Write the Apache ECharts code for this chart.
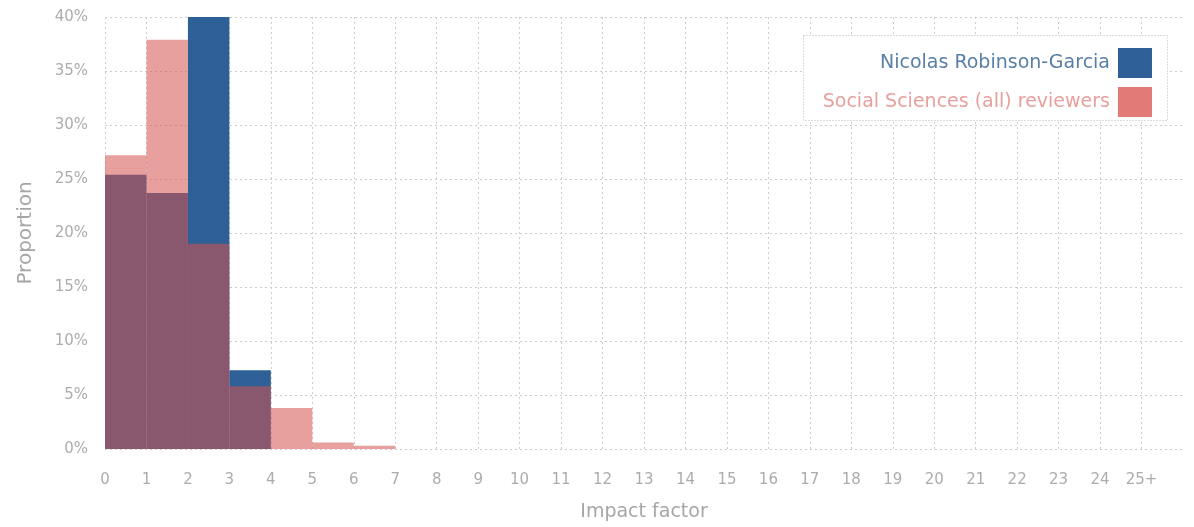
<!DOCTYPE html>
<html>
<head>
<meta charset="utf-8">
<script src="https://cdn.jsdelivr.net/npm/echarts@6/dist/echarts.min.js"></script>
<style>
html,body{margin:0;padding:0;background:#fff;}
#chart{width:1194px;height:527px;}
</style>
</head>
<body>
<div id="chart"></div>
<script>
// ---- data ----
const binStarts = [0,1,2,3,4,5,6,7,8,9,10,11,12,13,14,15,16,17,18,19,20,21,22,23,24,25];
const tickLabels = ['0','1','2','3','4','5','6','7','8','9','10','11','12','13','14','15','16','17','18','19','20','21','22','23','24','25+'];
const nicolasValues = [25.4,23.7,40.0,7.3,0,0,0,0,0,0,0,0,0,0,0,0,0,0,0,0,0,0,0,0,0,0];
const socialValues  = [27.2,37.9,19.0,5.8,3.8,0.6,0.3,0,0,0,0,0,0,0,0,0,0,0,0,0,0,0,0,0,0,0];
const seriesNames = ['Nicolas Robinson-Garcia','Social Sciences (all) reviewers'];

function renderBin(params, api) {
  const x0 = api.value(0), v = api.value(1);
  const p0 = api.coord([x0, 0]);
  const p1 = api.coord([x0 + 1, v]);
  return {
    type: 'rect',
    shape: { x: p0[0], y: p1[1], width: p1[0] - p0[0], height: p0[1] - p1[1] },
    style: api.style()
  };
}

const chart = echarts.init(document.getElementById('chart'));
const font = '"DejaVu Sans ExtraLight", "DejaVu Sans", sans-serif';
chart.setOption({
  animation: false,
  grid: { left: 105, right: 11, top: 17, bottom: 78 },
  xAxis: {
    type: 'value', min: 0, max: 26, interval: 1,
    name: 'Impact factor', nameLocation: 'middle', nameGap: 54,
    nameTextStyle: { color: '#a6a6a6', fontSize: 19, fontFamily: font },
    axisLine: { show: false }, axisTick: { show: false },
    axisLabel: {
      color: '#acacac', fontSize: 15, fontFamily: font, margin: 24,
      formatter: function (v) { return v < tickLabels.length ? tickLabels[v] : ''; }
    },
    splitLine: { show: true, showMaxLine: false, lineStyle: { color: '#cdcdcd', type: [2, 3], width: 1 } }
  },
  yAxis: {
    type: 'value', min: 0, max: 40, interval: 5,
    name: 'Proportion', nameLocation: 'middle', nameGap: 69,
    nameTextStyle: { color: '#a6a6a6', fontSize: 20, fontFamily: font },
    axisLine: { show: false }, axisTick: { show: false },
    axisLabel: { color: '#acacac', fontSize: 15, fontFamily: font, margin: 17, formatter: '{value}%' },
    splitLine: { show: true, lineStyle: { color: '#cdcdcd', type: [2, 3], width: 1 } }
  },
  legend: {
    orient: 'vertical', right: 37, top: 43, align: 'right',
    itemWidth: 34, itemHeight: 30, itemGap: 9, z: 5,
    textStyle: { fontSize: 19, fontFamily: font, padding: [0, 3, 0, 0] },
    data: [
      { name: seriesNames[0], icon: 'rect', itemStyle: { color: '#2e5f97', opacity: 1 }, textStyle: { color: '#5a7fa6' } },
      { name: seriesNames[1], icon: 'rect', itemStyle: { color: '#e27b77', opacity: 1 }, textStyle: { color: '#e8a09e' } }
    ]
  },
  graphic: [{
    type: 'rect', left: 803, top: 35, z: 3,
    shape: { width: 364, height: 85 },
    style: { fill: '#ffffff', stroke: '#b8b8b8', lineWidth: 1, lineDash: [1, 2] }
  }],
  series: [
    {
      name: seriesNames[0], type: 'custom', renderItem: renderBin,
      encode: { x: 0, y: 1 },
      itemStyle: { color: '#2e5f97' },
      data: binStarts.map((b, i) => [b, nicolasValues[i]])
    },
    {
      name: seriesNames[1], type: 'custom', renderItem: renderBin,
      encode: { x: 0, y: 1 },
      itemStyle: { color: '#d5524f', opacity: 0.55 },
      data: binStarts.map((b, i) => [b, socialValues[i]])
    }
  ]
});
</script>
</body>
</html>
